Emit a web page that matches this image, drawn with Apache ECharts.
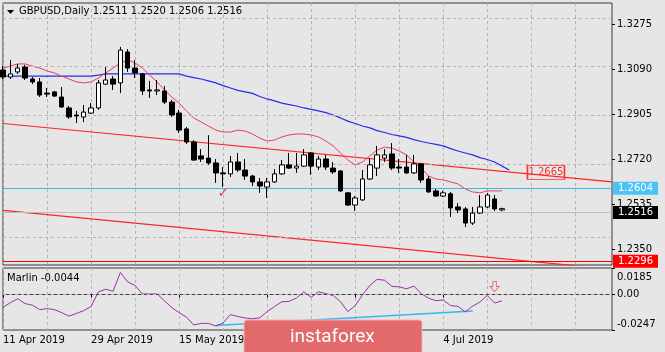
<!DOCTYPE html>
<html>
<head>
<meta charset="utf-8">
<script src="https://cdn.jsdelivr.net/npm/echarts@6/dist/echarts.min.js"></script>
<style>
html, body { margin: 0; padding: 0; background: #e6e6e6; }
#chart { width: 665px; height: 352px; }
</style>
</head>
<body>
<div id="chart"></div>
<script>
// GBPUSD daily, 11 Apr 2019 .. 16 Jul 2019
const opens = [1.3086,1.3057,1.3078,1.3098,1.3049,1.3037,1.2991,1.2996,1.2975,1.2930,
  1.2901,1.2893,1.2909,1.2930,1.3028,1.3049,1.3033,1.3160,1.3094,1.3070,
  1.3004,1.3000,1.3000,1.2954,1.2909,1.2844,1.2790,1.2733,1.2724,1.2704,
  1.2663,1.2659,1.2708,1.2675,1.2650,1.2626,1.2605,1.2626,1.2659,1.2696,
  1.2683,1.2691,1.2745,1.2687,1.2720,1.2683,1.2671,1.2581,1.2531,1.2552,
  1.2638,1.2683,1.2724,1.2741,1.2687,1.2687,1.2663,1.2700,1.2638,1.2589,
  1.2568,1.2577,1.2523,1.2515,1.2457,1.2498,1.2523,1.2556,1.2511];
const closes = [1.3057,1.3070,1.3094,1.3053,1.3037,1.2983,1.2987,1.2979,1.2934,1.2893,
  1.2897,1.2913,1.2930,1.3033,1.3045,1.3028,1.3168,1.3094,1.3074,1.3000,
  1.3000,1.3004,1.2954,1.2901,1.2839,1.2790,1.2716,1.2720,1.2704,1.2663,
  1.2659,1.2708,1.2675,1.2650,1.2626,1.2609,1.2626,1.2659,1.2696,1.2683,
  1.2691,1.2737,1.2691,1.2720,1.2687,1.2667,1.2589,1.2531,1.2560,1.2638,
  1.2696,1.2737,1.2737,1.2683,1.2683,1.2663,1.2700,1.2634,1.2585,1.2568,
  1.2581,1.2519,1.2511,1.2457,1.2498,1.2523,1.2572,1.2515,1.2516];
const lows = [1.3049,1.3049,1.3070,1.3045,1.3028,1.2975,1.2975,1.2975,1.2930,1.2885,
  1.2868,1.2872,1.2905,1.2922,1.3024,1.3004,1.2991,1.3078,1.3053,1.2983,
  1.2971,1.2983,1.2946,1.2893,1.2827,1.2782,1.2712,1.2708,1.2696,1.2622,
  1.2605,1.2646,1.2667,1.2634,1.2609,1.2581,1.2560,1.2622,1.2655,1.2679,
  1.2663,1.2687,1.2655,1.2675,1.2675,1.2659,1.2585,1.2527,1.2507,1.2548,
  1.2634,1.2650,1.2708,1.2675,1.2663,1.2659,1.2659,1.2622,1.2581,1.2564,
  1.2564,1.2482,1.2498,1.2441,1.2449,1.2494,1.2519,1.2507,1.2506];
const highs = [1.3102,1.3127,1.3111,1.3107,1.3057,1.3053,1.3012,1.3000,1.3016,1.2938,
  1.2918,1.2942,1.2950,1.3045,1.3098,1.3061,1.3181,1.3172,1.3127,1.3074,
  1.3041,1.3045,1.3020,1.2963,1.2922,1.2852,1.2798,1.2761,1.2818,1.2720,
  1.2687,1.2733,1.2745,1.2720,1.2655,1.2642,1.2642,1.2679,1.2716,1.2745,
  1.2745,1.2761,1.2749,1.2733,1.2737,1.2708,1.2675,1.2585,1.2568,1.2675,
  1.2724,1.2774,1.2761,1.2786,1.2720,1.2737,1.2737,1.2704,1.2650,1.2597,
  1.2589,1.2585,1.2539,1.2523,1.2523,1.2572,1.2581,1.2572,1.2520];

// moving averages (red = fast, blue = slow)
const maFast = [1.3094,1.3102,1.3111,1.3111,1.3102,1.3094,1.3082,1.3074,1.3061,1.3049,
  1.3037,1.3033,1.3037,1.3053,1.3074,1.3094,1.3115,1.3127,1.3115,1.3094,
  1.3065,1.3037,1.3004,1.2975,1.2950,1.2918,1.2889,1.2872,1.2856,1.2839,
  1.2831,1.2831,1.2839,1.2835,1.2823,1.2806,1.2794,1.2798,1.2811,1.2819,
  1.2823,1.2823,1.2819,1.2811,1.2794,1.2774,1.2745,1.2716,1.2696,1.2708,
  1.2733,1.2757,1.2769,1.2765,1.2753,1.2737,1.2708,1.2683,1.2650,1.2638,
  1.2634,1.2626,1.2618,1.2597,1.2585,1.2581,1.2589,1.2589,1.2589];
const maSlow = [1.3061,1.3061,1.3061,1.3061,1.3061,1.3061,1.3061,1.3061,1.3061,1.3061,
  1.3061,1.3061,1.3061,1.3065,1.3070,1.3070,1.3070,1.3070,1.3070,1.3070,
  1.3070,1.3070,1.3070,1.3070,1.3070,1.3061,1.3055,1.3049,1.3041,1.3033,
  1.3022,1.3012,1.3002,1.2996,1.2990,1.2977,1.2967,1.2959,1.2950,1.2944,
  1.2938,1.2930,1.2924,1.2918,1.2911,1.2901,1.2889,1.2876,1.2866,1.2856,
  1.2848,1.2837,1.2829,1.2821,1.2815,1.2809,1.2800,1.2792,1.2786,1.2780,
  1.2774,1.2763,1.2753,1.2745,1.2737,1.2726,1.2718,1.2708,1.2691,1.2675];

// Marlin oscillator
const marlin = [-0.0089,-0.0057,-0.0029,-0.0063,-0.0074,-0.0105,-0.0098,-0.0105,-0.0126,-0.0150,
  -0.0132,-0.0112,-0.0084,0.0019,0.0037,0.0023,0.0154,0.0088,0.0063,0.0004,
  0.0004,0.0004,-0.0043,-0.0091,-0.0126,-0.0157,-0.0212,-0.0201,-0.0201,-0.0219,
  -0.0198,-0.0139,-0.0153,-0.0163,-0.0169,-0.0162,-0.0119,-0.0084,-0.0050,-0.0048,
  -0.0024,0.0019,-0.0019,0.0019,0.0006,-0.0006,-0.0050,-0.0119,-0.0077,-0.0001,
  0.0064,0.0106,0.0100,0.0057,0.0054,0.0040,0.0059,0.0006,-0.0025,-0.0043,
  -0.0038,-0.0077,-0.0082,-0.0121,-0.0081,-0.0052,-0.0006,-0.0059,-0.0044];

// trend lines: [start index, end index] and their prices
const channelIdx = [0, 83];
const upperChannel = [1.2866, 1.2626];
const lowerChannel = [1.2509, 1.2267];
const marlinTrendIdx = [29, 64];
const marlinTrend = [-0.0215, -0.0114];

// horizontal levels
const cyanLevel = 1.2604;
const bidLevel = 1.2516;
const redLevel = 1.2296;
const channelTag = 1.2665;

const priceTicks = [1.3275, 1.3090, 1.2905, 1.2720, 1.2535, 1.2350];
const marlinTicks = [0.0185, 0, -0.0247];

// trading-day categories (chart runs on past the last bar)
const months = ['Jan','Feb','Mar','Apr','May','Jun','Jul','Aug','Sep','Oct','Nov','Dec'];
const dates = [];
let day = Date.UTC(2019, 3, 11);
while (dates.length < 84) {
  const d = new Date(day);
  const wd = d.getUTCDay();
  if (wd !== 0 && wd !== 6) dates.push(d.getUTCDate() + ' ' + months[d.getUTCMonth()] + ' 2019');
  day += 86400000;
}
const lastBar = opens.length - 1;

const FONT = 'DejaVu Sans';
const candles = opens.map((o, i) => [o, closes[i], lows[i], highs[i]]);

const gridLineStyle = { color: '#b4b4b4', type: [3, 3], width: 1 };

let myChart = echarts.init(document.getElementById('chart'));
myChart.setOption({
  animation: false,
  backgroundColor: '#e6e6e6',
  textStyle: { fontFamily: FONT },
  title: [
    { text: 'GBPUSD,Daily 1.2511 1.2520 1.2506 1.2516', left: 19, top: 6, padding: 0,
      textStyle: { fontSize: 10, fontWeight: 'normal', color: '#000', fontFamily: FONT } },
    { text: 'Marlin -0.0044', left: 7, top: 273, padding: 0,
      textStyle: { fontSize: 10, fontWeight: 'normal', color: '#000', fontFamily: FONT } }
  ],
  grid: [
    { left: 3, right: 53, top: 3, height: 262, show: true, borderColor: '#3a3a3a', borderWidth: 1 },
    { left: 3, right: 53, top: 268, height: 62, show: true, borderColor: '#3a3a3a', borderWidth: 1 }
  ],
  xAxis: [
    { type: 'category', gridIndex: 0, data: dates, boundaryGap: false,
      axisLine: { show: false }, axisTick: { show: false, interval: 5 }, axisLabel: { show: false, interval: 5 },
      splitLine: { show: true, interval: 5, lineStyle: gridLineStyle } },
    { type: 'category', gridIndex: 1, data: dates, boundaryGap: false,
      axisLine: { show: true, lineStyle: { color: '#3a3a3a' } },
      axisTick: { show: true, length: 3, interval: (i) => i % 12 === 0 && i <= lastBar, lineStyle: { color: '#000' } },
      axisLabel: { interval: (i) => i % 12 === 0 && i <= lastBar, align: 'left', margin: 5,
        color: '#000', fontSize: 10, fontFamily: FONT },
      splitLine: { show: true, interval: 5, lineStyle: gridLineStyle } }
  ],
  yAxis: [
    { type: 'value', gridIndex: 0, position: 'right', min: 1.22845, max: 1.33614,
      splitLine: { show: false }, axisLine: { show: false },
      axisTick: { show: true, length: 3, customValues: priceTicks, lineStyle: { color: '#000' } },
      axisLabel: { customValues: priceTicks, margin: 5, color: '#000', fontSize: 10, fontFamily: FONT,
        formatter: (v) => v.toFixed(4) } },
    { type: 'value', gridIndex: 1, position: 'right', min: -0.0247, max: 0.0185,
      splitLine: { show: false }, axisLine: { show: false },
      axisTick: { show: true, length: 3, customValues: marlinTicks, lineStyle: { color: '#000' } },
      axisLabel: { customValues: marlinTicks, margin: 5, color: '#000', fontSize: 10, fontFamily: FONT,
        formatter: (v) => v === 0 ? '0.00' : (v > 0 ? '{top|' + v.toFixed(4) + '}' : '{bot|' + v.toFixed(4) + '}'),
        rich: {
          top: { fontSize: 10, fontFamily: FONT, color: '#000', padding: [18, 0, 0, 0] },
          bot: { fontSize: 10, fontFamily: FONT, color: '#000', padding: [0, 0, 12, 0] }
        } } }
  ],
  series: [
    {
      name: 'upper', type: 'line', xAxisIndex: 0, yAxisIndex: 0, symbol: 'none', silent: true,
      lineStyle: { color: '#ff2424', width: 1.2 },
      data: channelIdx.map((x, k) => [x, upperChannel[k]]),
      // dashed price grid
      markLine: { silent: true, symbol: ['none', 'none'], label: { show: false },
        lineStyle: gridLineStyle, data: priceTicks.map(v => ({ yAxis: v })) },
      markPoint: { symbol: 'rect', symbolSize: [37, 14],
        itemStyle: { color: 'rgba(0,0,0,0)', borderColor: '#ff3030', borderWidth: 1 },
        label: { show: true, position: 'inside', formatter: '1.2665', color: '#ff3030', fontSize: 10, fontFamily: FONT },
        data: [{ coord: [74, channelTag] }] }
    },
    {
      name: 'lower', type: 'line', xAxisIndex: 0, yAxisIndex: 0, symbol: 'none', silent: true,
      lineStyle: { color: '#ff2424', width: 1.2 },
      data: channelIdx.map((x, k) => [x, lowerChannel[k]])
    },
    {
      name: 'levels', type: 'line', xAxisIndex: 0, yAxisIndex: 0, data: [], silent: true, z: 5,
      markLine: { silent: true, symbol: ['none', 'none'],
        data: [
          { yAxis: cyanLevel, lineStyle: { color: '#3fb6ea', width: 1, type: 'solid' },
            label: { show: true, position: 'end', distance: 1, formatter: cyanLevel.toFixed(4), color: '#fff',
              backgroundColor: '#4cc3f5', padding: [2, 5, 1, 5], fontSize: 10, fontFamily: FONT } },
          { yAxis: bidLevel, lineStyle: { color: '#bdbdbd', width: 1, type: 'solid' },
            label: { show: true, position: 'end', distance: 1, formatter: bidLevel.toFixed(4), color: '#fff',
              backgroundColor: '#000', padding: [2, 5, 1, 5], fontSize: 10, fontFamily: FONT } },
          { yAxis: redLevel, lineStyle: { color: '#ff0000', width: 1, type: 'solid' },
            label: { show: true, position: 'end', distance: 1, formatter: redLevel.toFixed(4), color: '#fff',
              backgroundColor: '#ff0000', padding: [2, 5, 1, 5], fontSize: 10, fontFamily: FONT } }
        ] }
    },
    {
      name: 'maSlow', type: 'line', xAxisIndex: 0, yAxisIndex: 0, symbol: 'none', silent: true,
      lineStyle: { color: '#2a2af0', width: 1.2 }, data: maSlow
    },
    {
      name: 'maFast', type: 'line', xAxisIndex: 0, yAxisIndex: 0, symbol: 'none', silent: true,
      lineStyle: { color: '#e4405e', width: 1 }, data: maFast
    },
    {
      name: 'GBPUSD', type: 'candlestick', xAxisIndex: 0, yAxisIndex: 0, barWidth: 5, z: 6,
      itemStyle: { color: '#ffffff', color0: '#000000', borderColor: '#000000', borderColor0: '#000000', borderWidth: 1 },
      data: candles,
      markPoint: { symbol: 'circle', symbolSize: 1, itemStyle: { color: 'rgba(0,0,0,0)' },
        label: { show: true, position: 'inside', formatter: '\u2713', color: '#e8323a', fontSize: 13, fontFamily: FONT },
        data: [{ coord: [30, 1.2576] }] }
    },
    {
      name: 'trend', type: 'line', xAxisIndex: 1, yAxisIndex: 1, symbol: 'none', silent: true,
      lineStyle: { color: '#35b8f0', width: 1.5 },
      data: marlinTrendIdx.map((x, k) => [x, marlinTrend[k]])
    },
    {
      name: 'Marlin', type: 'line', xAxisIndex: 1, yAxisIndex: 1, symbol: 'none', silent: true,
      lineStyle: { color: '#9c2fa6', width: 1 }, data: marlin,
      // dashed zero line in the oscillator
      markLine: { silent: true, symbol: ['none', 'none'], label: { show: false },
        lineStyle: gridLineStyle, data: [{ yAxis: 0 }] },
      markPoint: { symbol: 'path://M3,0 L7,0 L7,5 L10,5 L5,10 L0,5 L3,5 Z', symbolSize: [9, 10],
        itemStyle: { color: 'rgba(0,0,0,0)', borderColor: '#f06a6a', borderWidth: 1 },
        label: { show: false },
        data: [{ coord: [66.6, 0.0056] }] }
    }
  ],
  graphic: [
    { type: 'polygon', shape: { points: [[7, 10], [14, 10], [10.5, 14]] }, style: { fill: '#000' } },
    { type: 'rect', shape: { x: 244, y: 320, width: 178, height: 34, r: 3 },
      style: { fill: '#e26a6a', stroke: '#f3b0b0', lineWidth: 1 }, z: 100 },
    { type: 'text', x: 290, y: 337, z: 101,
      style: { text: 'instaforex', fill: '#ffffff', font: '19px Roboto', verticalAlign: 'middle' } }
  ]
});
window.addEventListener('resize', function () { myChart.resize(); });
</script>
</body>
</html>
